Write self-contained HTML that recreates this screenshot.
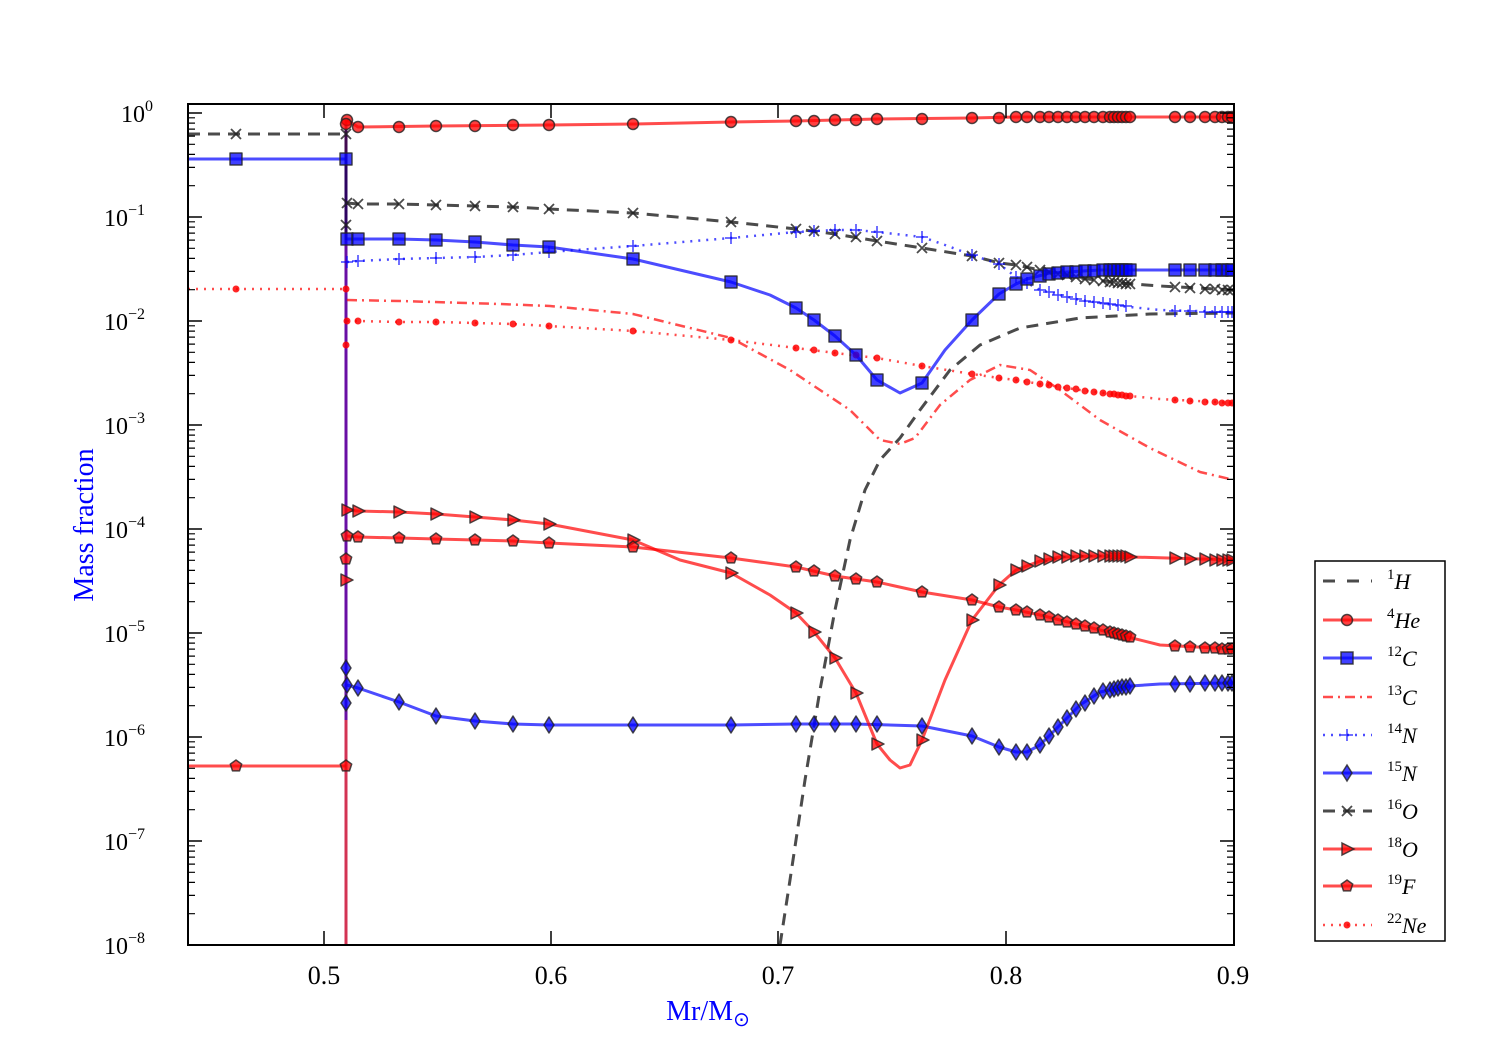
<!DOCTYPE html>
<html><head><meta charset="utf-8"><style>
html,body{margin:0;padding:0;background:#fff;width:1500px;height:1050px;overflow:hidden}
svg text{font-family:"Liberation Serif",serif}
</style></head><body>
<svg width="1500" height="1050" xmlns="http://www.w3.org/2000/svg" xmlns:xlink="http://www.w3.org/1999/xlink">
<defs>
<clipPath id="cp"><rect x="188" y="104" width="1046" height="841"/></clipPath>
<circle id="mo" r="5.5" fill="rgba(255,0,0,0.75)" stroke="#222" stroke-width="1.5" stroke-opacity="0.8"/>
<rect id="ms" x="-6" y="-6" width="12" height="12" fill="rgba(0,0,255,0.75)" stroke="#222" stroke-width="1.5" stroke-opacity="0.8"/>
<polygon id="md" points="0,-8 5,0 0,8 -5,0" fill="rgba(0,0,255,0.75)" stroke="#222" stroke-width="1.5" stroke-opacity="0.8"/>
<polygon id="mt" points="-5,-6 7,0 -5,6" fill="rgba(255,0,0,0.75)" stroke="#222" stroke-width="1.5" stroke-opacity="0.8"/>
<polygon id="mp" points="0,-6 5.7,-1.9 3.5,4.9 -3.5,4.9 -5.7,-1.9" fill="rgba(255,0,0,0.75)" stroke="#222" stroke-width="1.5" stroke-opacity="0.8"/>
<path id="mx" d="M-5,-5L5,5M-5,5L5,-5" stroke="rgba(30,30,30,0.8)" stroke-width="1.8"/>
<path id="mplus" d="M-6,0H6M0,-6V6" stroke="rgba(0,0,255,0.75)" stroke-width="1.5"/>
<circle id="mdot" r="3.5" fill="rgba(255,0,0,0.85)"/>
<path id="minor" d="M188,4.8h7M188,10.1h7M188,16.1h7M188,23.1h7M188,31.3h7M188,41.4h7M188,54.4h7M188,72.7h7M1234,4.8h-7M1234,10.1h-7M1234,16.1h-7M1234,23.1h-7M1234,31.3h-7M1234,41.4h-7M1234,54.4h-7M1234,72.7h-7" stroke="#000" stroke-width="1.2"/>
</defs>
<g clip-path="url(#cp)" fill="none" stroke-linejoin="round">
<!-- left core -->
<path d="M188,134H346" stroke="rgba(30,30,30,0.8)" stroke-width="3" stroke-dasharray="12,8"/>
<path d="M188,159H346" stroke="rgba(0,0,255,0.7)" stroke-width="3"/>
<path d="M188,289H346" stroke="rgba(255,0,0,0.7)" stroke-width="2.5" stroke-dasharray="2,6"/>
<path d="M188,766H346" stroke="rgba(255,0,0,0.7)" stroke-width="3"/>
<path d="M346,120V945" stroke="rgba(200,0,40,0.8)" stroke-width="3"/>
<path d="M346,160V720" stroke="rgba(60,0,200,0.7)" stroke-width="3"/>
<path d="M346,130V240" stroke="rgba(30,0,80,0.8)" stroke-width="3"/>
<!-- 1H -->
<polyline stroke="rgba(30,30,30,0.8)" stroke-width="3" stroke-dasharray="12,8" points="780,945 790,880 805,780 820,690 835,610 850,540 865,490 880,460 900,438 920,410 950,370 980,345 1020,328 1080,318 1150,314 1234,313"/>
<!-- 13C -->
<polyline stroke="rgba(255,0,0,0.7)" stroke-width="2.5" stroke-dasharray="10,5,2,5" points="347,300 400,301 500,304 550,306 633,314 731,338 790,370 820,390 850,410 880,440 900,444 915,438 940,405 970,380 1000,365 1030,370 1060,390 1100,420 1150,448 1200,472 1234,480"/>
<!-- 16O -->
<polyline stroke="rgba(30,30,30,0.8)" stroke-width="3" stroke-dasharray="12,8" points="347,203 358,204 399,204 436,205 475,206 513,207 549,209 633,213 731,222 796,229 835,234 877,241 922,248 972,256 1000,263 1016,265 1040,270 1080,278 1120,283 1160,286 1234,290"/>
<!-- 14N -->
<polyline stroke="rgba(0,0,255,0.7)" stroke-width="2.5" stroke-dasharray="2,6" points="347,262 358,261 399,259 436,258 475,257 513,255 549,252 633,246 731,238 796,232 835,230 856,230 877,232 922,237 945,245 972,255 999,264 1016,277 1040,290 1080,300 1120,306 1160,310 1234,312"/>
<!-- 22Ne -->
<polyline stroke="rgba(255,0,0,0.7)" stroke-width="2.5" stroke-dasharray="2,6" points="347,321 358,321 399,322 436,322 475,323 513,324 549,326 633,331 731,340 796,348 835,353 877,358 922,366 972,374 999,378 1016,380 1040,384 1080,390 1120,395 1160,399 1234,403"/>
<!-- 12C -->
<polyline stroke="rgba(0,0,255,0.7)" stroke-width="3" points="347,239 358,239 399,239 436,240 475,242 513,245 549,247 633,259 731,282 770,295 796,308 814,320 835,336 856,355 877,380 900,393 922,383 945,350 972,320 999,294 1016,284 1027,279 1050,273 1100,270 1234,270"/>
<!-- 15N -->
<polyline stroke="rgba(0,0,255,0.7)" stroke-width="3" points="347,685 358,688 399,702 436,716 475,721 513,724 549,725 633,725 731,725 796,724 856,724 922,726 972,736 999,747 1016,752 1027,752 1040,745 1060,725 1080,705 1100,692 1130,686 1160,684 1234,683"/>
<!-- 18O -->
<polyline stroke="rgba(255,0,0,0.7)" stroke-width="3" points="347,510 358,511 399,512 436,514 475,517 513,520 549,524 633,540 680,560 731,573 770,595 796,613 814,632 835,658 856,693 877,744 890,760 900,768 910,765 922,740 945,680 972,620 999,585 1016,570 1040,561 1060,557 1100,556 1234,560"/>
<!-- 19F -->
<polyline stroke="rgba(255,0,0,0.7)" stroke-width="3" points="347,536 358,537 399,538 436,539 475,540 513,541 549,543 633,547 731,558 796,567 835,576 877,582 922,592 972,600 999,607 1016,610 1040,615 1080,625 1120,635 1160,645 1234,649"/>
<!-- 4He -->
<polyline stroke="rgba(255,0,0,0.7)" stroke-width="3" points="347,120 358,127 436,126 549,125 633,124 731,122 796,121 877,119 972,118 1016,117 1234,117"/>

<!-- markers 4He -->
<use href="#mo" x="347" y="120"/><use href="#mo" x="346" y="124"/><use href="#mo" x="358" y="127"/><use href="#mo" x="399" y="127"/><use href="#mo" x="436" y="126"/><use href="#mo" x="475" y="126"/><use href="#mo" x="513" y="125"/><use href="#mo" x="549" y="125"/><use href="#mo" x="633" y="124"/><use href="#mo" x="731" y="122"/><use href="#mo" x="796" y="121"/><use href="#mo" x="814" y="121"/><use href="#mo" x="835" y="120"/><use href="#mo" x="856" y="120"/><use href="#mo" x="877" y="119"/><use href="#mo" x="922" y="119"/><use href="#mo" x="972" y="118"/><use href="#mo" x="999" y="118"/><use href="#mo" x="1016" y="117"/><use href="#mo" x="1027" y="117"/><use href="#mo" x="1040" y="117"/><use href="#mo" x="1049" y="117"/><use href="#mo" x="1058" y="117"/><use href="#mo" x="1067" y="117"/><use href="#mo" x="1076" y="117"/><use href="#mo" x="1085" y="117"/><use href="#mo" x="1094" y="117"/><use href="#mo" x="1103" y="117"/><use href="#mo" x="1110" y="117"/><use href="#mo" x="1114" y="117"/><use href="#mo" x="1118" y="117"/><use href="#mo" x="1122" y="117"/><use href="#mo" x="1126" y="117"/><use href="#mo" x="1130" y="117"/><use href="#mo" x="1175" y="117"/><use href="#mo" x="1190" y="117"/><use href="#mo" x="1205" y="117"/><use href="#mo" x="1215" y="117"/><use href="#mo" x="1222" y="117"/><use href="#mo" x="1228" y="117"/><use href="#mo" x="1232" y="117"/>
<!-- 16O -->
<use href="#mx" x="236" y="134"/><use href="#mx" x="346" y="134"/><use href="#mx" x="346" y="225"/><use href="#mx" x="347" y="203"/><use href="#mx" x="358" y="204"/><use href="#mx" x="399" y="204"/><use href="#mx" x="436" y="205"/><use href="#mx" x="475" y="206"/><use href="#mx" x="513" y="207"/><use href="#mx" x="549" y="209"/><use href="#mx" x="633" y="213"/><use href="#mx" x="731" y="222"/><use href="#mx" x="796" y="229"/><use href="#mx" x="814" y="231"/><use href="#mx" x="835" y="234"/><use href="#mx" x="856" y="237"/><use href="#mx" x="877" y="241"/><use href="#mx" x="922" y="248"/><use href="#mx" x="972" y="256"/><use href="#mx" x="999" y="263"/><use href="#mx" x="1016" y="265"/><use href="#mx" x="1027" y="267"/><use href="#mx" x="1040" y="270"/><use href="#mx" x="1049" y="272"/><use href="#mx" x="1058" y="274"/><use href="#mx" x="1067" y="275"/><use href="#mx" x="1076" y="277"/><use href="#mx" x="1085" y="279"/><use href="#mx" x="1094" y="280"/><use href="#mx" x="1103" y="281"/><use href="#mx" x="1110" y="282"/><use href="#mx" x="1114" y="282"/><use href="#mx" x="1118" y="283"/><use href="#mx" x="1122" y="283"/><use href="#mx" x="1126" y="284"/><use href="#mx" x="1130" y="284"/><use href="#mx" x="1175" y="287"/><use href="#mx" x="1190" y="288"/><use href="#mx" x="1205" y="289"/><use href="#mx" x="1215" y="289"/><use href="#mx" x="1222" y="290"/><use href="#mx" x="1228" y="290"/><use href="#mx" x="1232" y="290"/>
<!-- 14N -->
<use href="#mplus" x="347" y="262"/><use href="#mplus" x="358" y="261"/><use href="#mplus" x="399" y="259"/><use href="#mplus" x="436" y="258"/><use href="#mplus" x="475" y="257"/><use href="#mplus" x="513" y="255"/><use href="#mplus" x="549" y="252"/><use href="#mplus" x="633" y="246"/><use href="#mplus" x="731" y="238"/><use href="#mplus" x="796" y="232"/><use href="#mplus" x="814" y="231"/><use href="#mplus" x="835" y="230"/><use href="#mplus" x="856" y="230"/><use href="#mplus" x="877" y="232"/><use href="#mplus" x="922" y="237"/><use href="#mplus" x="972" y="255"/><use href="#mplus" x="999" y="264"/><use href="#mplus" x="1016" y="277"/><use href="#mplus" x="1027" y="283"/><use href="#mplus" x="1040" y="290"/><use href="#mplus" x="1049" y="292"/><use href="#mplus" x="1058" y="295"/><use href="#mplus" x="1067" y="297"/><use href="#mplus" x="1076" y="299"/><use href="#mplus" x="1085" y="301"/><use href="#mplus" x="1094" y="302"/><use href="#mplus" x="1103" y="303"/><use href="#mplus" x="1110" y="304"/><use href="#mplus" x="1118" y="305"/><use href="#mplus" x="1126" y="306"/><use href="#mplus" x="1175" y="311"/><use href="#mplus" x="1190" y="311"/><use href="#mplus" x="1205" y="312"/><use href="#mplus" x="1215" y="312"/><use href="#mplus" x="1222" y="312"/><use href="#mplus" x="1228" y="312"/><use href="#mplus" x="1232" y="312"/>
<!-- 22Ne -->
<use href="#mdot" x="236" y="289"/><use href="#mdot" x="346" y="289"/><use href="#mdot" x="346" y="345"/><use href="#mdot" x="347" y="321"/><use href="#mdot" x="358" y="321"/><use href="#mdot" x="399" y="322"/><use href="#mdot" x="436" y="322"/><use href="#mdot" x="475" y="323"/><use href="#mdot" x="513" y="324"/><use href="#mdot" x="549" y="326"/><use href="#mdot" x="633" y="331"/><use href="#mdot" x="731" y="340"/><use href="#mdot" x="796" y="348"/><use href="#mdot" x="814" y="350"/><use href="#mdot" x="835" y="353"/><use href="#mdot" x="856" y="355"/><use href="#mdot" x="877" y="358"/><use href="#mdot" x="922" y="366"/><use href="#mdot" x="972" y="374"/><use href="#mdot" x="999" y="378"/><use href="#mdot" x="1016" y="380"/><use href="#mdot" x="1027" y="382"/><use href="#mdot" x="1040" y="384"/><use href="#mdot" x="1049" y="385"/><use href="#mdot" x="1058" y="387"/><use href="#mdot" x="1067" y="388"/><use href="#mdot" x="1076" y="389"/><use href="#mdot" x="1085" y="391"/><use href="#mdot" x="1094" y="392"/><use href="#mdot" x="1103" y="393"/><use href="#mdot" x="1110" y="394"/><use href="#mdot" x="1114" y="394"/><use href="#mdot" x="1118" y="395"/><use href="#mdot" x="1122" y="395"/><use href="#mdot" x="1126" y="396"/><use href="#mdot" x="1130" y="396"/><use href="#mdot" x="1175" y="400"/><use href="#mdot" x="1190" y="401"/><use href="#mdot" x="1205" y="402"/><use href="#mdot" x="1215" y="402"/><use href="#mdot" x="1222" y="403"/><use href="#mdot" x="1228" y="403"/><use href="#mdot" x="1232" y="403"/>
<!-- 12C -->
<use href="#ms" x="236" y="159"/><use href="#ms" x="346" y="159"/><use href="#ms" x="347" y="239"/><use href="#ms" x="358" y="239"/><use href="#ms" x="399" y="239"/><use href="#ms" x="436" y="240"/><use href="#ms" x="475" y="242"/><use href="#ms" x="513" y="245"/><use href="#ms" x="549" y="247"/><use href="#ms" x="633" y="259"/><use href="#ms" x="731" y="282"/><use href="#ms" x="796" y="308"/><use href="#ms" x="814" y="320"/><use href="#ms" x="835" y="336"/><use href="#ms" x="856" y="355"/><use href="#ms" x="877" y="380"/><use href="#ms" x="922" y="383"/><use href="#ms" x="972" y="320"/><use href="#ms" x="999" y="294"/><use href="#ms" x="1016" y="284"/><use href="#ms" x="1027" y="279"/><use href="#ms" x="1040" y="276"/><use href="#ms" x="1049" y="274"/><use href="#ms" x="1058" y="273"/><use href="#ms" x="1067" y="272"/><use href="#ms" x="1076" y="272"/><use href="#ms" x="1085" y="271"/><use href="#ms" x="1094" y="271"/><use href="#ms" x="1103" y="270"/><use href="#ms" x="1110" y="270"/><use href="#ms" x="1114" y="270"/><use href="#ms" x="1118" y="270"/><use href="#ms" x="1122" y="270"/><use href="#ms" x="1126" y="270"/><use href="#ms" x="1130" y="270"/><use href="#ms" x="1175" y="270"/><use href="#ms" x="1190" y="270"/><use href="#ms" x="1205" y="270"/><use href="#ms" x="1215" y="270"/><use href="#ms" x="1222" y="270"/><use href="#ms" x="1228" y="270"/><use href="#ms" x="1232" y="270"/>
<!-- 15N -->
<use href="#md" x="346" y="668"/><use href="#md" x="346" y="703"/><use href="#md" x="347" y="685"/><use href="#md" x="358" y="688"/><use href="#md" x="399" y="702"/><use href="#md" x="436" y="716"/><use href="#md" x="475" y="721"/><use href="#md" x="513" y="724"/><use href="#md" x="549" y="725"/><use href="#md" x="633" y="725"/><use href="#md" x="731" y="725"/><use href="#md" x="796" y="724"/><use href="#md" x="814" y="724"/><use href="#md" x="835" y="724"/><use href="#md" x="856" y="724"/><use href="#md" x="877" y="724"/><use href="#md" x="922" y="726"/><use href="#md" x="972" y="736"/><use href="#md" x="999" y="747"/><use href="#md" x="1016" y="752"/><use href="#md" x="1027" y="752"/><use href="#md" x="1040" y="745"/><use href="#md" x="1049" y="736"/><use href="#md" x="1058" y="727"/><use href="#md" x="1067" y="718"/><use href="#md" x="1076" y="709"/><use href="#md" x="1085" y="703"/><use href="#md" x="1094" y="696"/><use href="#md" x="1103" y="691"/><use href="#md" x="1110" y="690"/><use href="#md" x="1114" y="689"/><use href="#md" x="1118" y="688"/><use href="#md" x="1122" y="687"/><use href="#md" x="1126" y="687"/><use href="#md" x="1130" y="686"/><use href="#md" x="1175" y="684"/><use href="#md" x="1190" y="684"/><use href="#md" x="1205" y="683"/><use href="#md" x="1215" y="683"/><use href="#md" x="1222" y="683"/><use href="#md" x="1228" y="683"/><use href="#md" x="1232" y="683"/>
<!-- 18O -->
<use href="#mt" x="346" y="580"/><use href="#mt" x="347" y="510"/><use href="#mt" x="358" y="511"/><use href="#mt" x="399" y="512"/><use href="#mt" x="436" y="514"/><use href="#mt" x="475" y="517"/><use href="#mt" x="513" y="520"/><use href="#mt" x="549" y="524"/><use href="#mt" x="633" y="540"/><use href="#mt" x="731" y="573"/><use href="#mt" x="796" y="613"/><use href="#mt" x="814" y="632"/><use href="#mt" x="835" y="658"/><use href="#mt" x="856" y="693"/><use href="#mt" x="877" y="744"/><use href="#mt" x="922" y="740"/><use href="#mt" x="972" y="620"/><use href="#mt" x="999" y="585"/><use href="#mt" x="1016" y="570"/><use href="#mt" x="1027" y="566"/><use href="#mt" x="1040" y="561"/><use href="#mt" x="1049" y="559"/><use href="#mt" x="1058" y="557"/><use href="#mt" x="1067" y="557"/><use href="#mt" x="1076" y="556"/><use href="#mt" x="1085" y="556"/><use href="#mt" x="1094" y="556"/><use href="#mt" x="1103" y="556"/><use href="#mt" x="1110" y="556"/><use href="#mt" x="1114" y="556"/><use href="#mt" x="1118" y="556"/><use href="#mt" x="1122" y="556"/><use href="#mt" x="1126" y="556"/><use href="#mt" x="1130" y="557"/><use href="#mt" x="1175" y="558"/><use href="#mt" x="1190" y="559"/><use href="#mt" x="1205" y="559"/><use href="#mt" x="1215" y="560"/><use href="#mt" x="1222" y="560"/><use href="#mt" x="1228" y="560"/><use href="#mt" x="1232" y="560"/>
<!-- 19F -->
<use href="#mp" x="236" y="766"/><use href="#mp" x="346" y="766"/><use href="#mp" x="346" y="559"/><use href="#mp" x="347" y="536"/><use href="#mp" x="358" y="537"/><use href="#mp" x="399" y="538"/><use href="#mp" x="436" y="539"/><use href="#mp" x="475" y="540"/><use href="#mp" x="513" y="541"/><use href="#mp" x="549" y="543"/><use href="#mp" x="633" y="547"/><use href="#mp" x="731" y="558"/><use href="#mp" x="796" y="567"/><use href="#mp" x="814" y="571"/><use href="#mp" x="835" y="576"/><use href="#mp" x="856" y="579"/><use href="#mp" x="877" y="582"/><use href="#mp" x="922" y="592"/><use href="#mp" x="972" y="600"/><use href="#mp" x="999" y="607"/><use href="#mp" x="1016" y="610"/><use href="#mp" x="1027" y="612"/><use href="#mp" x="1040" y="615"/><use href="#mp" x="1049" y="617"/><use href="#mp" x="1058" y="620"/><use href="#mp" x="1067" y="622"/><use href="#mp" x="1076" y="624"/><use href="#mp" x="1085" y="626"/><use href="#mp" x="1094" y="628"/><use href="#mp" x="1103" y="630"/><use href="#mp" x="1110" y="632"/><use href="#mp" x="1114" y="633"/><use href="#mp" x="1118" y="634"/><use href="#mp" x="1122" y="635"/><use href="#mp" x="1126" y="636"/><use href="#mp" x="1130" y="637"/><use href="#mp" x="1175" y="646"/><use href="#mp" x="1190" y="647"/><use href="#mp" x="1205" y="648"/><use href="#mp" x="1215" y="648"/><use href="#mp" x="1222" y="649"/><use href="#mp" x="1228" y="649"/><use href="#mp" x="1232" y="649"/>
</g>

<!-- axes -->
<rect x="188" y="104" width="1046" height="841" fill="none" stroke="#000" stroke-width="2"/>
<path d="M324,945v-14M324,104v14M551,945v-14M551,104v14M778,945v-14M778,104v14M1006,945v-14M1006,104v14M188,113h14M1234,113h-14M188,217h14M1234,217h-14M188,321h14M1234,321h-14M188,425h14M1234,425h-14M188,529h14M1234,529h-14M188,633h14M1234,633h-14M188,737h14M1234,737h-14M188,841h14M1234,841h-14" stroke="#000" stroke-width="1.5"/>
<use href="#minor" y="113"/><use href="#minor" y="217"/><use href="#minor" y="321"/><use href="#minor" y="425"/><use href="#minor" y="529"/><use href="#minor" y="633"/><use href="#minor" y="737"/><use href="#minor" y="841"/>
<g font-size="26" text-anchor="middle">
<text x="324" y="984">0.5</text><text x="551" y="984">0.6</text><text x="778" y="984">0.7</text><text x="1006" y="984">0.8</text><text x="1233" y="984">0.9</text>
</g>
<g font-size="24">
<text x="121" y="122">10<tspan font-size="16" dy="-11">0</tspan></text>
<text x="104" y="226">10<tspan font-size="16" dy="-11">−1</tspan></text>
<text x="104" y="330">10<tspan font-size="16" dy="-11">−2</tspan></text>
<text x="104" y="434">10<tspan font-size="16" dy="-11">−3</tspan></text>
<text x="104" y="538">10<tspan font-size="16" dy="-11">−4</tspan></text>
<text x="104" y="642">10<tspan font-size="16" dy="-11">−5</tspan></text>
<text x="104" y="746">10<tspan font-size="16" dy="-11">−6</tspan></text>
<text x="104" y="850">10<tspan font-size="16" dy="-11">−7</tspan></text>
<text x="104" y="954">10<tspan font-size="16" dy="-11">−8</tspan></text>
</g>
<text transform="translate(93,525) rotate(-90)" font-size="28" fill="#0000ff" text-anchor="middle">Mass fraction</text>
<text x="708" y="1020" font-size="28" fill="#0000ff" text-anchor="middle">Mr/M<tspan font-size="20" dy="6">⊙</tspan></text>

<!-- legend -->
<rect x="1315" y="561" width="130" height="380" fill="#fff" stroke="#000" stroke-width="1.5"/>
<g fill="none">
<path d="M1323,581H1372" stroke="rgba(30,30,30,0.8)" stroke-width="3" stroke-dasharray="12,12"/>
<path d="M1323,620H1372" stroke="rgba(255,0,0,0.7)" stroke-width="3"/>
<path d="M1323,658H1372" stroke="rgba(0,0,255,0.7)" stroke-width="3"/>
<path d="M1323,697H1372" stroke="rgba(255,0,0,0.7)" stroke-width="2.5" stroke-dasharray="10,5,2,5"/>
<path d="M1323,735H1372" stroke="rgba(0,0,255,0.7)" stroke-width="2.5" stroke-dasharray="2,6"/>
<path d="M1323,773H1372" stroke="rgba(0,0,255,0.7)" stroke-width="3"/>
<path d="M1323,811H1372" stroke="rgba(30,30,30,0.8)" stroke-width="3" stroke-dasharray="12,8"/>
<path d="M1323,849H1372" stroke="rgba(255,0,0,0.7)" stroke-width="3"/>
<path d="M1323,886H1372" stroke="rgba(255,0,0,0.7)" stroke-width="3"/>
<path d="M1323,925H1372" stroke="rgba(255,0,0,0.7)" stroke-width="2.5" stroke-dasharray="2,6"/>
</g>
<use href="#mo" x="1347" y="620"/><use href="#ms" x="1347" y="658"/><use href="#mplus" x="1347" y="735"/><use href="#md" x="1347" y="773"/><use href="#mx" x="1347" y="811"/><use href="#mt" x="1347" y="849"/><use href="#mp" x="1347" y="886"/><use href="#mdot" x="1347" y="925"/>
<g font-size="22">
<text x="1387" y="589"><tspan font-size="15" dy="-10">1</tspan><tspan font-style="italic" dy="10">H</tspan></text>
<text x="1387" y="628"><tspan font-size="15" dy="-10">4</tspan><tspan font-style="italic" dy="10">He</tspan></text>
<text x="1387" y="666"><tspan font-size="15" dy="-10">12</tspan><tspan font-style="italic" dy="10">C</tspan></text>
<text x="1387" y="705"><tspan font-size="15" dy="-10">13</tspan><tspan font-style="italic" dy="10">C</tspan></text>
<text x="1387" y="743"><tspan font-size="15" dy="-10">14</tspan><tspan font-style="italic" dy="10">N</tspan></text>
<text x="1387" y="781"><tspan font-size="15" dy="-10">15</tspan><tspan font-style="italic" dy="10">N</tspan></text>
<text x="1387" y="819"><tspan font-size="15" dy="-10">16</tspan><tspan font-style="italic" dy="10">O</tspan></text>
<text x="1387" y="857"><tspan font-size="15" dy="-10">18</tspan><tspan font-style="italic" dy="10">O</tspan></text>
<text x="1387" y="894"><tspan font-size="15" dy="-10">19</tspan><tspan font-style="italic" dy="10">F</tspan></text>
<text x="1387" y="933"><tspan font-size="15" dy="-10">22</tspan><tspan font-style="italic" dy="10">Ne</tspan></text>
</g>
</svg>
</body></html>
